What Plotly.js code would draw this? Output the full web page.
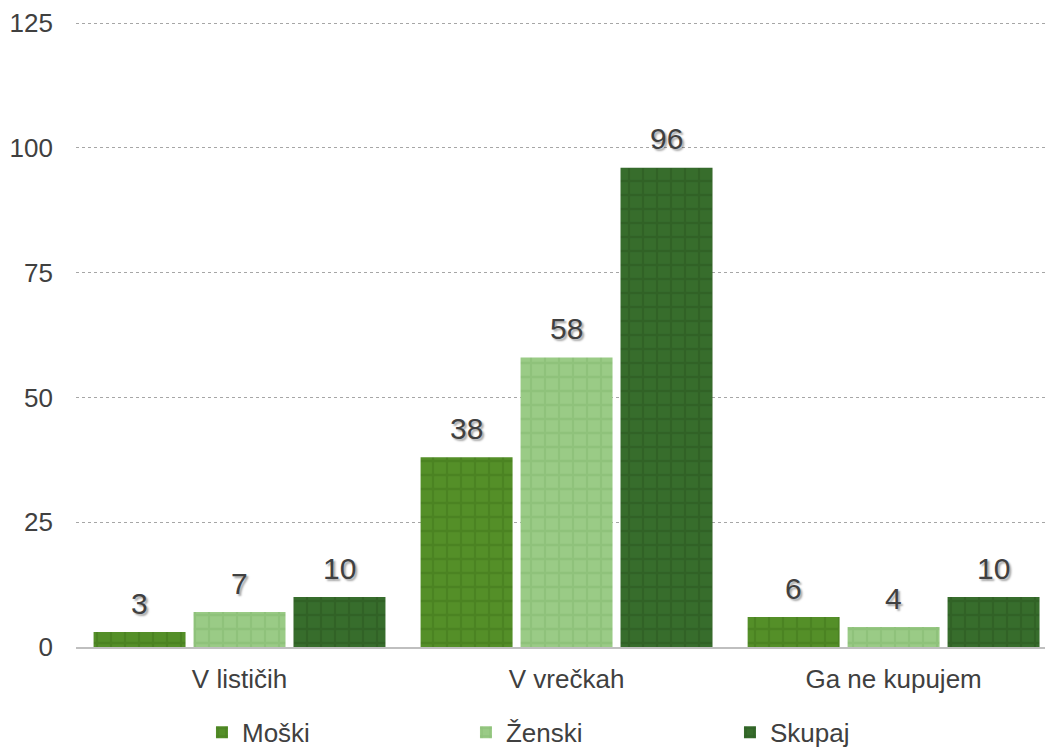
<!DOCTYPE html>
<html><head><meta charset="utf-8">
<script src="https://cdn.plot.ly/plotly-3.0.1.min.js"></script>
<style>html,body{margin:0;padding:0;background:#fff}#chart{width:1045px;height:747px}</style>
</head><body><div id="chart"></div>
<script>
const categories = ["V lističih", "V vrečkah", "Ga ne kupujem"];
const seriesNames = ["Moški", "Ženski", "Skupaj"];
const moski = [3, 38, 6];
const zenski = [7, 58, 4];
const skupaj = [10, 96, 10];
const yTicks = [0, 25, 50, 75, 100, 125];

const values = [moski, zenski, skupaj];
const colors = ["#548f28", "#9acb86", "#376d2c"];
const lineColors = ["#3d7019", "#7fb36b", "#26521e"];

const bargap = 0.083, bargroupgap = 0.08;
const traces = values.map((v, i) => ({
  type: "bar", name: seriesNames[i], x: categories, y: v,
  marker: { color: colors[i], line: { width: 0 },
    pattern: { shape: "+", size: 14, solidity: 0.3, fgcolor: lineColors[i], fgopacity: 0.4, fillmode: "overlay" } },
  hoverinfo: "x+y"
}));

const slot = (1 - bargap) / values.length;
const annotations = [];
values.forEach((v, i) => v.forEach((val, k) => {
  annotations.push({ xref: "x", yref: "y", x: k + (i - (values.length - 1) / 2) * slot, y: val,
    text: String(val), showarrow: false, yanchor: "middle", yshift: 29,
    font: { family: "Liberation Sans, Arial, sans-serif", size: 30, color: "#404040", shadow: "2px 2px 2px rgba(0,0,0,0.35)" } });
}));

const layout = {
  width: 1045, height: 747,
  margin: { l: 76, r: 0, t: 20, b: 100, autoexpand: false },
  paper_bgcolor: "#fff", plot_bgcolor: "#fff",
  barmode: "group", bargap: bargap, bargroupgap: bargroupgap,
  font: { family: "Liberation Sans, Arial, sans-serif", color: "#404040", size: 26 },
  xaxis: { type: "category", range: [-0.5, 2.463], showgrid: false, showline: true, linecolor: "#bfbfbf", linewidth: 2,
    ticks: "", ticklabelstandoff: 8, tickfont: { size: 26, color: "#404040" }, fixedrange: true, automargin: false },
  yaxis: { range: [0, 125.6], tickvals: yTicks, ticktext: yTicks.map(String), showgrid: true, gridcolor: "#a6a6a6", griddash: "dot", gridwidth: 1,
    zeroline: false, showline: false, ticks: "", ticklabelstandoff: 22, tickfont: { size: 26, color: "#404040" }, fixedrange: true, automargin: false },
  showlegend: true,
  legend: { orientation: "h", x: 0.13, xanchor: "left", y: -0.136, yanchor: "middle", entrywidth: 219, entrywidthmode: "pixels",
    itemwidth: 30, font: { size: 26, color: "#404040" }, traceorder: "normal" },
  annotations: annotations
};
Plotly.newPlot("chart", traces, layout, { displayModeBar: false, staticPlot: true });
</script></body></html>
